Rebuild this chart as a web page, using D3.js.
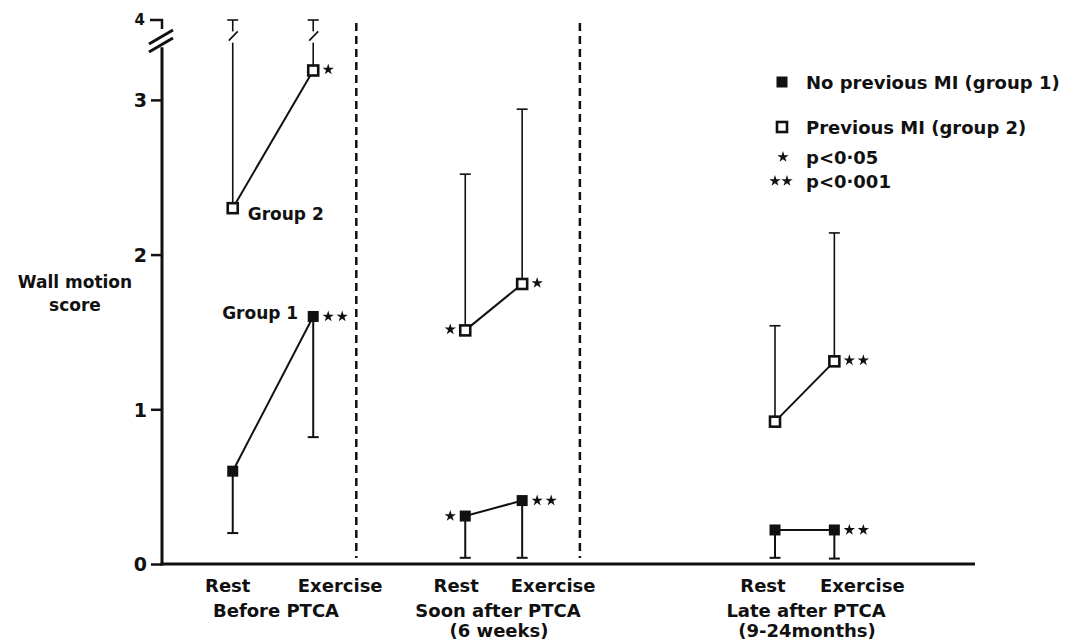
<!DOCTYPE html>
<html>
<head>
<meta charset="utf-8">
<script src="https://cdn.jsdelivr.net/npm/d3@7/dist/d3.min.js"></script>
<style>
  body { margin: 0; background: #fff; }
  text { font-family: "DejaVu Sans", sans-serif; font-weight: bold; fill: #111; }
</style>
</head>
<body>
<div id="chart"></div>
<script>
// values
const phases = ['Before PTCA', 'Soon after PTCA', 'Late after PTCA'];
const phaseSub = ['', '(6 weeks)', '(9-24months)'];
const conditions = ['Rest', 'Exercise'];
// one entry per time point: before rest, before ex, soon rest, soon ex, late rest, late ex
const g1Mean = [0.6, 1.6, 0.31, 0.41, 0.22, 0.22];
const g1Low = [0.2, 0.82, 0.04, 0.04, 0.04, 0.035];
const g2Mean = [2.3, 3.19, 1.51, 1.81, 0.92, 1.31];
const g2High = [4, 4, 2.52, 2.94, 1.54, 2.14];
const g1Sig = [0, 2, 1, 2, 0, 2];
const g2Sig = [0, 1, 1, 1, 0, 2];
const yTicks = [0, 1, 2, 3];

const width = 1074, height = 643;
// horizontal slots of the points, and the dashed separators
const slot = [0.87, 1.86, 3.73, 4.43, 7.54, 8.27];
const sepSlot = [2.39, 5.14];

const svg = d3.select('#chart').append('svg')
  .attr('width', width).attr('height', height);

const x = d3.scaleLinear().domain([0, 10]).range([162, 975]);
// axis is broken above 3.4
const y = d3.scaleLinear().domain([0, 3.4, 4]).range([564, 38, 20]);

// y axis
const yAxis = d3.axisLeft(y).tickValues(yTicks).tickSize(11).tickPadding(4).tickFormat(d3.format('d'));
const ya = svg.append('g').attr('transform', 'translate(' + x(0) + ',0)').call(yAxis);
ya.select('.domain').remove();
ya.selectAll('.tick line').attr('stroke', '#111').attr('stroke-width', 2.5);
ya.selectAll('.tick text').style('font-size', '19px').attr('dy', '0.36em');

svg.append('line')
  .attr('x1', x(0)).attr('x2', x(0))
  .attr('y1', y(0) + 1.5).attr('y2', y(3.34))
  .attr('stroke', '#111').attr('stroke-width', 3);
// top stub for 4
svg.append('path')
  .attr('d', 'M' + (x(0) - 12) + ',' + y(4) + 'H' + x(0) + 'V' + (y(4) + 9))
  .attr('fill', 'none').attr('stroke', '#111').attr('stroke-width', 2.5);
svg.append('text').attr('x', x(0) - 17).attr('y', y(4) + 5)
  .attr('text-anchor', 'end').style('font-size', '15px').text('4');
// break marks
[0, 8].forEach(off => {
  svg.append('line')
    .attr('x1', x(0) - 13).attr('y1', y(3.4) + 6 + off)
    .attr('x2', x(0) + 11).attr('y2', y(3.4) - 8 + off)
    .attr('stroke', '#111').attr('stroke-width', 3);
});

// x axis
svg.append('line')
  .attr('x1', x(0) - 1.5).attr('x2', x(10))
  .attr('y1', y(0)).attr('y2', y(0))
  .attr('stroke', '#111').attr('stroke-width', 3);

// dashed separators
svg.selectAll('.sep').data(sepSlot).enter().append('line')
  .attr('x1', d => x(d)).attr('x2', d => x(d))
  .attr('y1', 23).attr('y2', y(0) - 6)
  .attr('stroke', '#111').attr('stroke-width', 2.5)
  .attr('stroke-dasharray', '8,5');

// y label
svg.append('text').attr('x', 75).attr('y', 288).attr('text-anchor', 'middle')
  .style('font-size', '17px').text('Wall motion');
svg.append('text').attr('x', 75).attr('y', 311).attr('text-anchor', 'middle')
  .style('font-size', '17px').text('score');

// x labels
slot.forEach((s, i) => {
  const off = i < 2 ? [-5, 27] : (i < 4 ? [-9, 31] : [-12, 28]);
  svg.append('text').attr('x', x(s) + off[i % 2]).attr('y', 592)
    .attr('text-anchor', 'middle').style('font-size', '18px')
    .text(conditions[i % 2]);
});
const phaseX = [276, 498, 806];
phases.forEach((p, i) => {
  svg.append('text').attr('x', phaseX[i]).attr('y', 617)
    .attr('text-anchor', 'middle').style('font-size', '18px').text(p);
  if (phaseSub[i]) {
    svg.append('text').attr('x', phaseX[i] + 1).attr('y', 637)
      .attr('text-anchor', 'middle').style('font-size', '18px').text(phaseSub[i]);
  }
});

const pts = slot.map((s, i) => ({ i, s, m1: g1Mean[i], lo: g1Low[i], m2: g2Mean[i], hi: g2High[i] }));
const pairs = d3.range(3).map(k => [pts[2 * k], pts[2 * k + 1]]);

// error bars
const capW = 5.5;
pts.forEach(p => {
  // group 1 downward
  svg.append('line').attr('x1', x(p.s)).attr('x2', x(p.s))
    .attr('y1', y(p.m1)).attr('y2', y(p.lo))
    .attr('stroke', '#111').attr('stroke-width', 2);
  svg.append('line').attr('x1', x(p.s) - capW).attr('x2', x(p.s) + capW)
    .attr('y1', y(p.lo)).attr('y2', y(p.lo))
    .attr('stroke', '#111').attr('stroke-width', 2);
  // group 2 upward
  if (p.hi >= 4) {
    svg.append('line').attr('x1', x(p.s)).attr('x2', x(p.s))
      .attr('y1', y(p.m2)).attr('y2', y(3.37))
      .attr('stroke', '#111').attr('stroke-width', 1.6);
    svg.append('line').attr('x1', x(p.s)).attr('x2', x(p.s))
      .attr('y1', y(3.62)).attr('y2', y(p.hi))
      .attr('stroke', '#111').attr('stroke-width', 1.6);
    svg.append('line').attr('x1', x(p.s) - 4).attr('x2', x(p.s) + 5)
      .attr('y1', y(3.37) - 2).attr('y2', y(3.42) - 6)
      .attr('stroke', '#111').attr('stroke-width', 1.6);
  } else {
    svg.append('line').attr('x1', x(p.s)).attr('x2', x(p.s))
      .attr('y1', y(p.m2)).attr('y2', y(p.hi))
      .attr('stroke', '#111').attr('stroke-width', 1.6);
  }
  svg.append('line').attr('x1', x(p.s) - capW).attr('x2', x(p.s) + capW)
    .attr('y1', y(p.hi)).attr('y2', y(p.hi))
    .attr('stroke', '#111').attr('stroke-width', 1.6);
});

// connecting lines
const line1 = d3.line().x(d => x(d.s)).y(d => y(d.m1));
const line2 = d3.line().x(d => x(d.s)).y(d => y(d.m2));
svg.selectAll('.l1').data(pairs).enter().append('path')
  .attr('d', line1).attr('fill', 'none').attr('stroke', '#111').attr('stroke-width', 2);
svg.selectAll('.l2').data(pairs).enter().append('path')
  .attr('d', line2).attr('fill', 'none').attr('stroke', '#111').attr('stroke-width', 2);

// markers
svg.selectAll('.m1').data(pts).enter().append('rect')
  .attr('x', d => x(d.s) - 5.5).attr('y', d => y(d.m1) - 5.5)
  .attr('width', 11).attr('height', 11).attr('fill', '#111');
svg.selectAll('.m2').data(pts).enter().append('rect')
  .attr('x', d => x(d.s) - 5).attr('y', d => y(d.m2) - 5)
  .attr('width', 10).attr('height', 10)
  .attr('fill', '#fff').attr('stroke', '#111').attr('stroke-width', 2.6);

// significance stars
const star = d3.symbol(d3.symbolStar).size(40);
function stars(cx, cy, n, side) {
  for (let k = 0; k < n; k++) {
    const sx = side > 0 ? cx + 15 + 14 * k : cx - 15 - 14 * k;
    svg.append('path').attr('d', star)
      .attr('transform', 'translate(' + sx + ',' + cy + ')').attr('fill', '#111');
  }
}
pts.forEach(p => {
  const side = (p.i === 2) ? -1 : 1;
  if (g1Sig[p.i]) stars(x(p.s), y(p.m1), g1Sig[p.i], side);
  if (g2Sig[p.i]) stars(x(p.s), y(p.m2) - 1, g2Sig[p.i], side);
});

// group labels
svg.append('text').attr('x', x(slot[0]) + 15).attr('y', y(g2Mean[0]) + 12)
  .style('font-size', '17px').text('Group 2');
svg.append('text').attr('x', x(slot[1]) - 15).attr('y', y(g1Mean[1]) + 3)
  .attr('text-anchor', 'end').style('font-size', '17px').text('Group 1');

// legend
const lg = svg.append('g').attr('transform', 'translate(782,0)');
lg.append('rect').attr('x', -5.5).attr('y', 76.5).attr('width', 11).attr('height', 11).attr('fill', '#111');
lg.append('text').attr('x', 24).attr('y', 89).style('font-size', '18px').text('No previous MI (group 1)');
lg.append('rect').attr('x', -5).attr('y', 122).attr('width', 10).attr('height', 10)
  .attr('fill', '#fff').attr('stroke', '#111').attr('stroke-width', 2.6);
lg.append('text').attr('x', 24).attr('y', 134).style('font-size', '18px').text('Previous MI (group 2)');
lg.append('path').attr('d', star).attr('transform', 'translate(1,157)').attr('fill', '#111');
lg.append('text').attr('x', 24).attr('y', 164).style('font-size', '18px').text('p<0·05');
lg.append('path').attr('d', star).attr('transform', 'translate(-7,181)').attr('fill', '#111');
lg.append('path').attr('d', star).attr('transform', 'translate(5,181)').attr('fill', '#111');
lg.append('text').attr('x', 24).attr('y', 188).style('font-size', '18px').text('p<0·001');
</script>
</body>
</html>
